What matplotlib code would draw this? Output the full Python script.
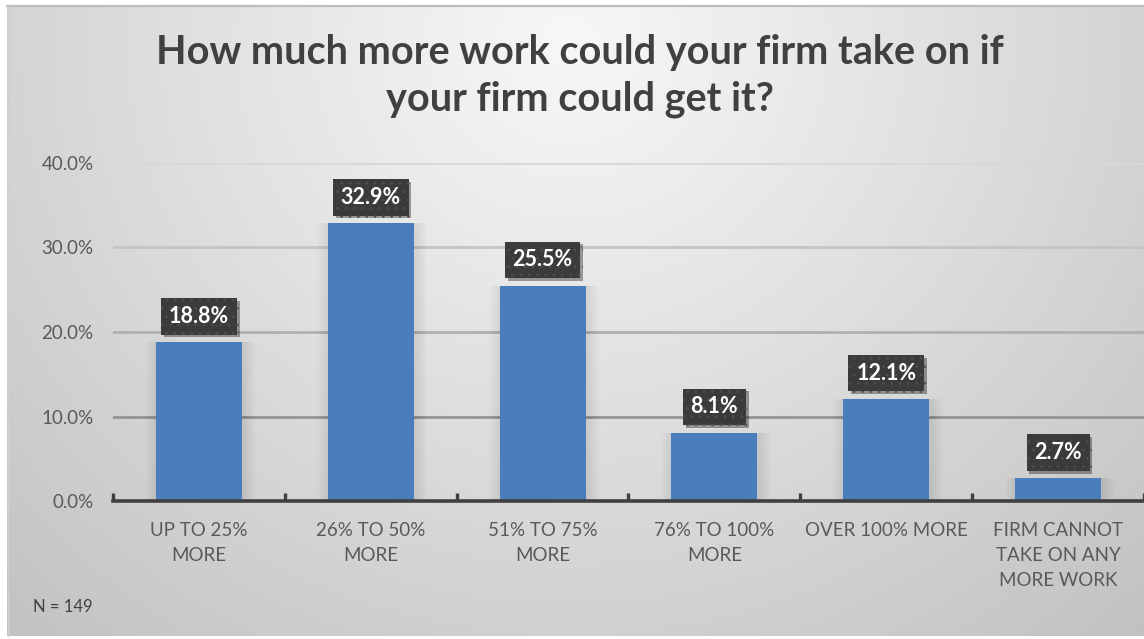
import numpy as np
import matplotlib
matplotlib.use("Agg")
import matplotlib.pyplot as plt
import matplotlib.patheffects as pe
from matplotlib.ticker import FuncFormatter, FixedLocator

# ---- data ----
categories = ["UP TO 25%\nMORE", "26% TO 50%\nMORE", "51% TO 75%\nMORE",
              "76% TO 100%\nMORE", "OVER 100% MORE",
              "FIRM CANNOT\nTAKE ON ANY\nMORE WORK"]
shares = [18.8, 32.9, 25.5, 8.1, 12.1, 2.7]
y_ticks = [0, 10, 20, 30, 40]
title = "How much more work could your firm take on if\nyour firm could get it?"
note = "N = 149"

W, H, DPI = 1144, 639, 100
plt.rcParams["font.family"] = ["Lato", "DejaVu Sans"]
plt.rcParams["hatch.linewidth"] = 0.6

fig = plt.figure(figsize=(W / DPI, H / DPI), dpi=DPI)
fig.patch.set_facecolor("white")

# ---- radial gradient panel behind the chart ----
bg = fig.add_axes([0, 0, 1, 1], zorder=0)
bg.set_xlim(0, W)
bg.set_ylim(H, 0)
bg.axis("off")
yy, xx = np.mgrid[0:H, 0:W]
r = np.hypot((xx - 570) / 1.0, (yy - 40) / 0.95)
v = 0.97 - 0.20 * np.clip(r / 800.0, 0, 1.3) ** 1.05
img = np.dstack([v, v, v])
x0, y0, y1 = 7, 5, 636
bg.imshow(img[y0:y1, x0:W], extent=(x0, W, y1, y0), aspect="auto",
          interpolation="bilinear")
bg.plot([x0, W], [y0 + 0.5, y0 + 0.5], color="#bdbdbd", lw=1.6)
bg.plot([x0 + 0.5, x0 + 0.5], [y0, y1], color="#d0d0d0", lw=1.0)

# ---- main axes ----
left_px, right_px = 113.0, W
bottom_px, top_px = 501, 163
step = 173.0
ax = fig.add_axes([left_px / W, 1 - bottom_px / H,
                   (right_px - left_px) / W, (bottom_px - top_px) / H], zorder=2)
ax.patch.set_alpha(0)
ax.set_xlim(-0.5, -0.5 + (right_px - left_px) / step)
ax.set_ylim(0, 40)

x = np.arange(len(categories))

# gridlines, darker toward the baseline
grid_cols = {10: "#959595", 20: "#b0b0b0", 30: "#c4c4c4", 40: "#d8d8d8"}
for t in y_ticks[1:]:
    ax.axhline(t, color=grid_cols[t], lw=2.0, zorder=1)

# soft shadow halo around the bars
for k in range(10):
    ax.bar(x + 0.01, shares, width=0.5 + 0.014 * (k + 1), color="black",
           alpha=0.009, zorder=2, linewidth=0)
ax.bar(x, shares, width=0.5, color="#4a7ebb", zorder=3, linewidth=0)

# value labels in dark boxes
for xi, val in zip(x, shares):
    t = ax.annotate(f"{val:.1f}%", xy=(xi, val), xytext=(0, 18.5),
                    textcoords="offset points", ha="center", va="center",
                    color="white", fontsize=15.5, fontweight="bold", zorder=5,
                    bbox=dict(boxstyle="square,pad=0.36", facecolor="#3b3b3b",
                              edgecolor="#505050", hatch="..", linewidth=0))
    t.get_bbox_patch().set_path_effects(
        [pe.SimplePatchShadow(offset=(2, -2), shadow_rgbFace="black", alpha=0.35),
         pe.Normal()])

# axes styling
for s in ["left", "right", "top"]:
    ax.spines[s].set_visible(False)
ax.spines["bottom"].set_color("#404040")
ax.spines["bottom"].set_linewidth(2.6)
ax.spines["bottom"].set_zorder(6)

ax.yaxis.set_major_locator(FixedLocator(y_ticks))
ax.yaxis.set_major_formatter(FuncFormatter(lambda v, p: f"{v:.1f}%"))
ax.tick_params(axis="y", length=0, pad=14, labelsize=13.5, labelcolor="#595959")

ax.set_xticks(x)
ax.set_xticklabels(categories, fontsize=13.5, color="#595959", linespacing=1.58)
ax.tick_params(axis="x", which="major", length=0, pad=15)
ax.set_xticks(np.arange(-0.5, len(categories) + 0.5, 1.0), minor=True)
ax.tick_params(axis="x", which="minor", direction="in", length=6, width=2.4,
               color="#404040")

# title and note
fig.text(580 / W, 1 - 76 / H, title, ha="center", va="center", fontsize=28.5,
         fontweight="bold", color="#404040", linespacing=1.33, zorder=3)
fig.text(33 / W, 1 - 607 / H, note, ha="left", va="center", fontsize=12,
         color="#404040", zorder=3)

fig.savefig("out.png", dpi=DPI)
